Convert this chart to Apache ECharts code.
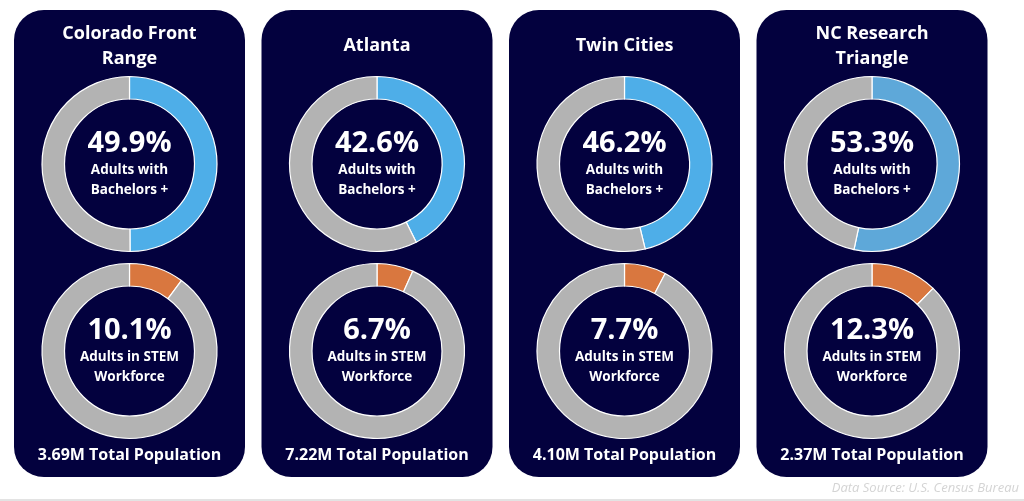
<!DOCTYPE html>
<html>
<head>
<meta charset="utf-8">
<title>Metro education and STEM</title>
<script src="https://cdn.jsdelivr.net/npm/echarts@6/dist/echarts.min.js"></script>
<style>
  html, body { margin: 0; padding: 0; background: #fff; }
  #main { width: 1024px; height: 501px; }
</style>
</head>
<body>
<div id="main"></div>
<script>
// data
const regions = ['Colorado Front\nRange', 'Atlanta', 'Twin Cities', 'NC Research\nTriangle']
const bachelorsPct = [49.9, 42.6, 46.2, 53.3]
const stemPct = [10.1, 6.7, 7.7, 12.3]
const populations = ['3.69M', '7.22M', '4.10M', '2.37M']
const bachelorsLabel = 'Adults with\nBachelors +'
const stemLabel = 'Adults in STEM\nWorkforce'
const sourceNote = 'Data Source: U.S. Census Bureau'

const NAVY = '#03013e'
const GRAY = '#b3b3b3'
const ORANGE = '#d9773f'
const blues = ['#4eaee8', '#4eaee8', '#4eaee8', '#5ea8d9']
const FONT = '"Open Sans"'

let chart = echarts.init(document.getElementById('main'), null, { renderer: 'canvas' })

const panelLeft = 14, panelStep = 247.5, panelW = 231
const panelTop = 10, panelH = 467
const ringY = [164, 351]

let series = [], graphics = []

regions.forEach((name, i) => {
  const cx = panelLeft + i * panelStep + panelW / 2
  graphics.push({
    type: 'rect', z: -10,
    shape: { x: panelLeft + i * panelStep, y: panelTop, width: panelW, height: panelH, r: 30 },
    style: { fill: NAVY }
  })
  graphics.push({
    type: 'text', z: 10,
    style: {
      text: name, x: cx, y: 46, align: 'center', verticalAlign: 'middle',
      fill: '#fff', font: `bold 18px ${FONT}`, lineHeight: 25
    }
  })
  graphics.push({
    type: 'text', z: 10,
    style: {
      text: `${populations[i]} Total Population`, x: cx, y: 455, align: 'center', verticalAlign: 'middle',
      fill: '#fff', font: `bold 16px ${FONT}`
    }
  })

  const rings = [
    { pct: bachelorsPct[i], color: blues[i], label: bachelorsLabel, y: ringY[0] },
    { pct: stemPct[i], color: ORANGE, label: stemLabel, y: ringY[1] }
  ]
  rings.forEach(r => {
    series.push({
      type: 'pie',
      center: [cx, r.y],
      radius: [65, 87.5],
      startAngle: 90,
      clockwise: true,
      silent: true,
      animation: false,
      emphasis: { disabled: true },
      itemStyle: { borderColor: '#ffffff', borderWidth: 1.2 },
      labelLine: { show: false },
      label: {
        show: true,
        position: 'center',
        formatter: () => `{v|${r.pct.toFixed(1)}%}\n{t|${r.label.replace('\n', '}\n{t|')}}`,
        rich: {
          v: { fontFamily: 'Open Sans', fontWeight: 'bold', fontSize: 29, color: '#fff', lineHeight: 32 },
          t: { fontFamily: 'Open Sans', fontWeight: 'bold', fontSize: 13.5, color: '#fff', lineHeight: 20 }
        }
      },
      data: [
        { value: r.pct, itemStyle: { color: r.color }, label: { show: true } },
        { value: +(100 - r.pct).toFixed(1), itemStyle: { color: GRAY }, label: { show: false } }
      ]
    })
  })
})

graphics.push({
  type: 'text',
  style: {
    text: sourceNote, x: 1019, y: 488, align: 'right', verticalAlign: 'middle',
    fill: '#d4d4d4', font: `italic 13px ${FONT}`
  }
})
graphics.push({
  type: 'rect',
  shape: { x: 0, y: 499, width: 1024, height: 2 },
  style: { fill: '#e3e3e3' }
})

chart.setOption({
  backgroundColor: '#ffffff',
  animation: false,
  graphic: graphics,
  series: series
})

window.addEventListener('resize', () => chart.resize())
</script>
</body>
</html>
